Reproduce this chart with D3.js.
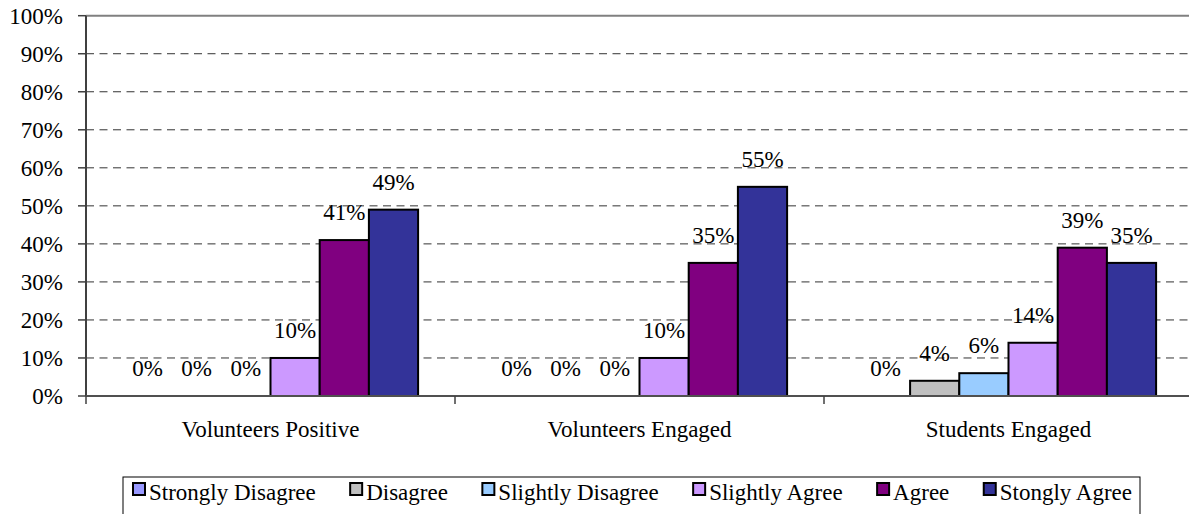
<!DOCTYPE html>
<html>
<head>
<meta charset="utf-8">
<script src="https://cdn.jsdelivr.net/npm/d3@7"></script>
</head>
<body style="margin:0">
<svg id="chart" width="1189" height="514"></svg>
<script>
// chart data
const categories = ["Volunteers Positive", "Volunteers Engaged", "Students Engaged"];
const seriesNames = ["Strongly Disagree", "Disagree", "Slightly Disagree", "Slightly Agree", "Agree", "Stongly Agree"];
const seriesColors = ["#9999ff", "#c0c0c0", "#99ccff", "#cc99ff", "#800080", "#333399"];
const stronglyDisagree = [0, 0, 0];
const disagree = [0, 0, 4];
const slightlyDisagree = [0, 0, 6];
const slightlyAgree = [10, 10, 14];
const agree = [41, 35, 39];
const stonglyAgree = [49, 55, 35];
const yTicks = [0, 10, 20, 30, 40, 50, 60, 70, 80, 90, 100];

const seriesValues = [stronglyDisagree, disagree, slightlyDisagree, slightlyAgree, agree, stonglyAgree];

const FONT = '"Times New Roman"';
const FS = 23;

const svg = d3.select("#chart").style("font-family", FONT);

// serif text helper
function serif(sel) {
    return sel
        .style("font-family", FONT)
        .attr("font-size", FS)
        .attr("fill", "#000");
}

const plotLeft = 86, plotRight = 1193;   // plot runs past the right edge
const plotTop = 15.7, plotBottom = 396;

const x0 = d3.scaleBand()
    .domain(categories)
    .range([plotLeft, plotRight]);

// Excel style gap width 150%: 0.75 bar on each side
const barW = x0.bandwidth() / (seriesNames.length + 1.5);
const x1 = d3.scaleBand()
    .domain(seriesNames)
    .range([0.75 * barW, x0.bandwidth() - 0.75 * barW]);

const y = d3.scaleLinear().domain([0, 100]).range([plotBottom, plotTop]);

// dashed gridlines
svg.append("g")
    .selectAll("line")
    .data(yTicks.filter(t => t > 0 && t < 100))
    .enter()
    .append("line")
    .attr("x1", plotLeft)
    .attr("x2", plotRight)
    .attr("y1", d => y(d))
    .attr("y2", d => y(d))
    .attr("stroke", "#333")
    .attr("stroke-width", 1)
    .attr("stroke-dasharray", "8,5.5");

// top border of plot
svg.append("line")
    .attr("x1", plotLeft).attr("x2", plotRight)
    .attr("y1", y(100)).attr("y2", y(100))
    .attr("stroke", "#808080")
    .attr("stroke-width", 2);

// bars and value labels
seriesNames.forEach((s, si) => {
    categories.forEach((cat, ci) => {
        const v = seriesValues[si][ci];
        const bx = x0(cat) + x1(s);
        if (v > 0) {
            svg.append("rect")
                .attr("x", bx)
                .attr("y", y(v))
                .attr("width", x1.bandwidth())
                .attr("height", y(0) - y(v))
                .attr("fill", seriesColors[si])
                .attr("stroke", "#000")
                .attr("stroke-width", 2);
        }
    });
});
seriesNames.forEach((s, si) => {
    categories.forEach((cat, ci) => {
        const v = seriesValues[si][ci];
        serif(svg.append("text"))
            .attr("x", x0(cat) + x1(s) + x1.bandwidth() / 2)
            .attr("y", y(v) - 20)
            .attr("text-anchor", "middle")
            .text(v + "%");
    });
});

// y axis, drawn by hand from the scale
svg.append("line")
    .attr("x1", plotLeft).attr("x2", plotLeft)
    .attr("y1", y(100)).attr("y2", y(0))
    .attr("stroke", "#404040")
    .attr("stroke-width", 2);

svg.append("g")
    .selectAll("line")
    .data(yTicks)
    .enter()
    .append("line")
    .attr("x1", plotLeft - 8).attr("x2", plotLeft)
    .attr("y1", d => y(d)).attr("y2", d => y(d))
    .attr("stroke", "#404040")
    .attr("stroke-width", 1.5);

yTicks.forEach(t => {
    serif(svg.append("text"))
        .attr("x", plotLeft - 23)
        .attr("y", y(t))
        .attr("dy", "0.35em")
        .attr("text-anchor", "end")
        .text(t + "%");
});

// x axis
svg.append("line")
    .attr("x1", plotLeft).attr("x2", plotRight)
    .attr("y1", plotBottom).attr("y2", plotBottom)
    .attr("stroke", "#505050")
    .attr("stroke-width", 2);

svg.append("g")
    .selectAll("line")
    .data(categories.map(c => x0(c)).concat([plotRight]))
    .enter()
    .append("line")
    .attr("x1", d => d).attr("x2", d => d)
    .attr("y1", plotBottom).attr("y2", plotBottom + 8)
    .attr("stroke", "#404040")
    .attr("stroke-width", 1.5);

categories.forEach(c => {
    serif(svg.append("text"))
        .attr("x", x0(c) + x0.bandwidth() / 2)
        .attr("y", 437)
        .attr("text-anchor", "middle")
        .text(c);
});

// legend: box spans roughly 123..1140
const boxLeft = 123, boxRight = 1140, boxTop = 477;
const padL = 10, padR = 8, swatch = 12, swGap = 4;
svg.append("rect")
    .attr("x", boxLeft).attr("y", boxTop)
    .attr("width", boxRight - boxLeft)
    .attr("height", 50)
    .attr("fill", "#fff")
    .attr("stroke", "#000")
    .attr("stroke-width", 1);

const labelNodes = seriesNames.map(s =>
    serif(svg.append("text")).attr("y", 500).text(s));
const widths = labelNodes.map(t => swatch + swGap + t.node().getComputedTextLength());
const inner = (boxRight - boxLeft) - padL - padR;
const spacing = (inner - d3.sum(widths)) / (seriesNames.length - 1);
let cx = boxLeft + padL;
seriesNames.forEach((s, i) => {
    svg.append("rect")
        .attr("x", cx)
        .attr("y", 483)
        .attr("width", swatch)
        .attr("height", swatch)
        .attr("fill", seriesColors[i])
        .attr("stroke", "#000")
        .attr("stroke-width", 2);
    labelNodes[i].attr("x", cx + swatch + swGap);
    cx += widths[i] + spacing;
});
</script>
</body>
</html>
